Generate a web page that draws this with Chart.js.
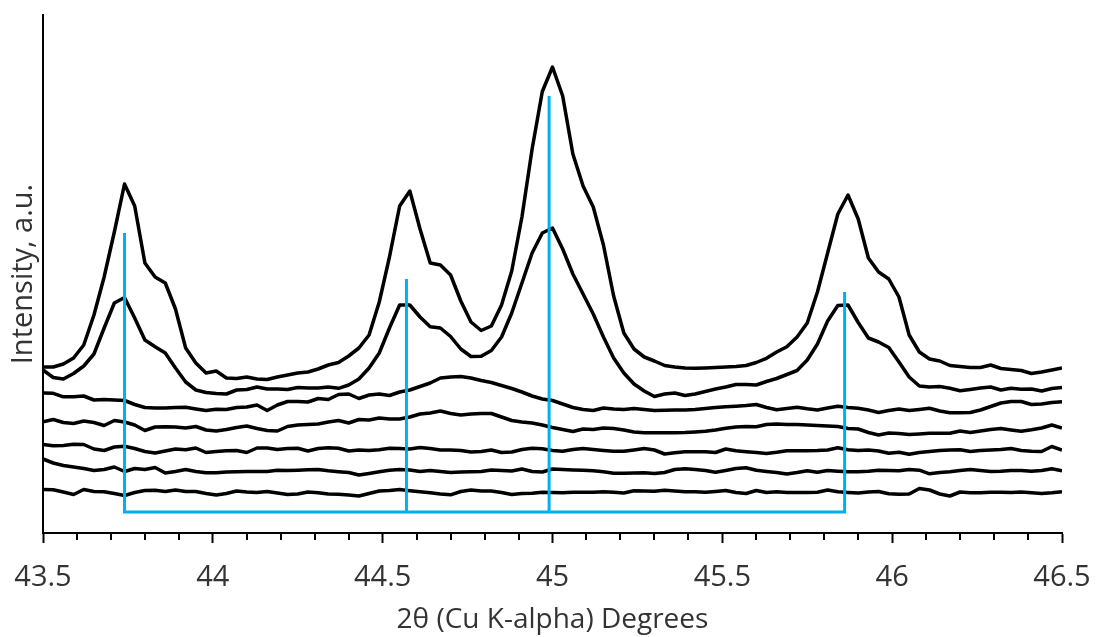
<!DOCTYPE html>
<html>
<head>
<meta charset="utf-8">
<title>XRD scans</title>
<script src="https://cdn.jsdelivr.net/npm/chart.js@4.4.1/dist/chart.umd.min.js"></script>
<style>
  html, body { margin: 0; padding: 0; background: #fff; }
</style>
</head>
<body>
<canvas id="xrd" width="1096" height="637"></canvas>
<script>
// scan window and step (degrees 2-theta)
const xMin = 43.5;
const xMax = 46.5;
const stepDeg = 0.03;

// stacked scans, top trace first (intensity, a.u., already offset)
const pattern1 = [
  166,166,169,175,188,218,256,301,349,327,
  270,256,250,224,185,170,160,162,155,154.5,
  156,154,153.5,156,158,160,161,164,168,170.5,
  177,185,198,231,276,327,342,304,270,268,
  258,232,211,202.5,207,228,262,316,384,441.5,
  466,437,379,347,326,288,237,200,184,176,
  172,167.5,166,165,164.7,165,165.5,166,166.5,167.5,
  170.5,174.7,181,186.3,196,210,241,280,319,338,
  314,275,261,254,236,198,181,174,172,167.5,
  166.5,165.5,165.5,168,164.5,163.5,162.5,159.5,161,163,
  165
];
const pattern2 = [
  163,155.5,154,159.5,167,179,205,230,235.5,215,
  193,186.3,180,165,151,143,140.5,139.5,139,143,
  143.5,146,144,144,143.5,145.5,145,145,146,144.7,
  148,154,165,180,205,228,228,216,206.3,205,
  196.5,184,176.5,176.7,182.5,196,220,250,280,300,
  305,284,259,239,219,196,175,160,149,142,
  136.5,139,140,137.5,139,141.5,144,146,148.5,148.5,
  148,151.5,154.5,158.5,162.5,173,189,212,227.5,228,
  210.5,195,191,185.5,171,156,147,146,146.5,144.7,
  142.2,143.5,145,146,143,144.7,143.7,144,142,144.5,
  145.5
];
const pattern3 = [
  140,139.7,136.2,136.3,137,133,133.5,133,132.5,128.5,
  125.5,125,125,125.5,125.7,124,122.5,123.8,123.5,125.5,
  126,128,122.5,128,131.5,131.5,131,134.5,133.5,138.5,
  139,134.5,138,139,137.5,141,143,146.5,150,155,
  156,156.5,155,152.5,150.5,147.5,144.5,141,137,134,
  132.5,129,125.5,123.5,122.5,125,124,123.5,124.5,123.5,
  122.5,122.7,123,123,123.5,124.5,125.5,126.3,126.8,127.5,
  128.5,125.5,123.2,124.5,125.8,124.2,123,125,126.7,125.5,
  124.7,123,120.5,122.5,124,122.5,123.5,124.7,122,120.3,
  120.3,120.5,123,126.5,130,131.5,131.5,128.5,129,130.5,
  131.3
];
const pattern4 = [
  111.3,113.5,110.5,109.5,112,110.5,107.5,112.5,111,108,
  102.5,106,106.3,106,105,106.5,103,102,103.5,105.5,
  107,104.5,102.5,102,106.5,108,108.5,109,111,112.5,
  110,113.5,113,115,114,114,116,119,120,122,
  119.5,118,119,119.5,119.5,116,112.5,111,110,108,
  105.5,103.5,101.5,104,103.5,105,104.5,103,101,100.3,
  100.3,100.3,100.3,100.5,101,101.7,103,104.7,106,106.5,
  106.3,108.5,109,108.5,108.5,108,107.5,107,106.5,104.5,
  104,100.5,98,100,99.5,98.5,99,99.7,99.7,99.7,
  102,100.5,102,103.5,104.5,103,101.7,103.2,105,108,
  105
];
const pattern5 = [
  88.5,87.2,87.5,88.7,88.5,84,82.5,86,86.7,84.5,
  81.5,80,82,84,83.2,85,80.5,81.5,82.3,82.5,
  80.5,85,85,83.5,84.5,84.7,82,84.5,85.2,84.7,
  82,83,82.5,83.2,84.7,84.4,84,85.5,84.5,83,
  83,82.5,81,81.5,83,80.5,81,83.5,84.7,84.2,
  82.5,81.7,83.5,84.5,83.5,82.5,81.7,81.7,83,84.5,
  83,79,80.2,81.3,81.3,81.3,80.5,84,82.3,81.3,
  80.5,79.5,80.7,82.2,82.3,82.3,82.5,83,85.2,83.3,
  82.5,83,82,79.7,80.7,78.7,80.5,81.5,82.5,83,
  83.2,81.5,82.5,83,83.5,84.5,82.5,81.7,81.5,86.5,
  83
];
const pattern6 = [
  74,70,67.5,66,64.5,62.5,63.5,66,61.5,64.5,
  63.5,65.5,60,61.5,63.5,61.5,60.2,60.2,61,61.3,
  61.5,61.5,61.5,62.7,62.5,62.8,63.2,63.5,62.2,61.3,
  60.5,58,59.5,61.2,62.7,63.5,63,61.5,62.5,61.5,
  60.5,61,61.3,61.5,63,62.5,62,64,61.5,61,
  64,63.5,63,62.7,62.3,61.2,59.8,59.7,60,60.2,
  59.5,60.5,63.5,64.2,63.5,62.5,60.7,62.5,64.5,65.2,
  62.7,61.5,60.5,59,60.5,62.3,60.8,62.5,61.8,61.3,
  61.3,61.8,62.7,62.5,62.2,63.5,62.8,59.2,60.5,61.3,
  62.5,63.5,62.5,61.5,61.8,62.4,62.5,61.8,62.5,64.2,
  62.3
];
const pattern7 = [
  43.5,43.2,41,38.5,43.5,41.5,41.3,39.5,37.5,40.5,
  42.5,42.7,41.5,43,41.5,41.5,39.5,38,39.5,42,
  41,40.5,41.5,40,38.5,39,41,40.3,39,38.7,
  38,37,39.5,42,42.5,43.4,42.3,41.3,40.3,39,
  38.2,41.5,43,42,42,40.5,38.5,39.5,39.7,40.8,
  40.5,40.3,40.7,40.7,40.8,41.3,40.8,40,42.2,42,
  41.8,42.8,42,41.2,41.3,40.7,41.5,42.5,40.5,39.5,
  42.5,40.5,41.3,40.5,40.5,40.5,40.8,43,41.2,40.5,
  40,41,41.5,39.2,38.7,39,44.5,43,39,37,
  41,40.2,40.3,40.8,40.7,40.5,41,40.2,39.5,40.2,
  41.3
];
const patterns = [pattern1, pattern2, pattern3, pattern4, pattern5, pattern6, pattern7];

// reference lines
const refPeaks = [43.74, 44.57, 44.99, 45.86];
const refHeights = [300, 254, 437, 241];
const refBase = 21;

const twoTheta = pattern1.map((_, i) => +(xMin + i * stepDeg).toFixed(2));

// sticks joined along the base: top, down, across, up ...
const stickPath = [];
refPeaks.forEach((pos, k) => {
  if (k > 0) stickPath.push({ x: pos, y: refBase });
  stickPath.push({ x: pos, y: refHeights[k] });
  if (k < refPeaks.length - 1) stickPath.push({ x: pos, y: refBase });
});

const textColor = '#333';
const fontFamily = "'Open Sans', sans-serif";

// short ticks every 0.1 deg between the labelled ones
const minorTicks = {
  id: 'minorTicks',
  afterDraw(chart) {
    const xs = chart.scales.x;
    const ctx = chart.ctx;
    ctx.save();
    ctx.strokeStyle = '#000';
    ctx.lineWidth = 2;
    const n = Math.round((xMax - xMin) / 0.1);
    for (let k = 1; k < n; k++) {
      if (k % 5 === 0) continue;
      const px = Math.round(xs.getPixelForValue(xMin + k * 0.1));
      ctx.beginPath();
      ctx.moveTo(px, xs.top);
      ctx.lineTo(px, xs.top + 7);
      ctx.stroke();
    }
    ctx.restore();
  }
};

new Chart(document.getElementById('xrd'), {
  type: 'scatter',
  data: {
    datasets: [
      {
        label: 'reference',
        data: stickPath,
        showLine: true,
        borderColor: '#00B0F0',
        borderWidth: 3,
        pointRadius: 0,
        tension: 0
      },
      ...patterns.map((p, n) => ({
        label: 'scan ' + (n + 1),
        data: p.map((v, i) => ({ x: twoTheta[i], y: v })),
        showLine: true,
        borderColor: '#000',
        borderWidth: 3.5,
        pointRadius: 0,
        tension: 0,
        borderJoinStyle: 'round'
      }))
    ]
  },
  options: {
    responsive: false,
    animation: false,
    devicePixelRatio: 1,
    layout: { padding: { top: 15, right: 34, left: 0, bottom: 0 } },
    plugins: {
      legend: { display: false },
      tooltip: { enabled: false }
    },
    scales: {
      x: {
        type: 'linear',
        min: xMin,
        max: xMax,
        position: 'bottom',
        afterFit: s => {
          s.height = 104;
          s.paddingLeft = 0;
          s.paddingRight = 0;
        },
        ticks: {
          stepSize: 0.5,
          color: textColor,
          padding: 17,
          font: { family: fontFamily, size: 29 },
          callback: v => String(Number(v.toFixed(1)))
        },
        grid: {
          display: true,
          drawOnChartArea: false,
          tickLength: 10,
          tickColor: '#000',
          tickWidth: 2
        },
        border: { display: true, color: '#000', width: 2 },
        title: {
          display: true,
          text: '2θ (Cu K-alpha) Degrees',
          color: textColor,
          font: { family: fontFamily, size: 28 },
          padding: { top: 4, bottom: 0 }
        }
      },
      y: {
        min: 0,
        max: 518,
        afterFit: s => {
          s.width = 43;
          s.paddingTop = 0;
          s.paddingBottom = 0;
        },
        ticks: { display: false },
        grid: { display: false },
        border: { display: true, color: '#000', width: 2 },
        title: {
          display: true,
          text: 'Intensity, a.u.',
          color: textColor,
          font: { family: fontFamily, size: 29 },
          padding: { top: 6, bottom: 0 }
        }
      }
    }
  },
  plugins: [minorTicks]
});
</script>
</body>
</html>
